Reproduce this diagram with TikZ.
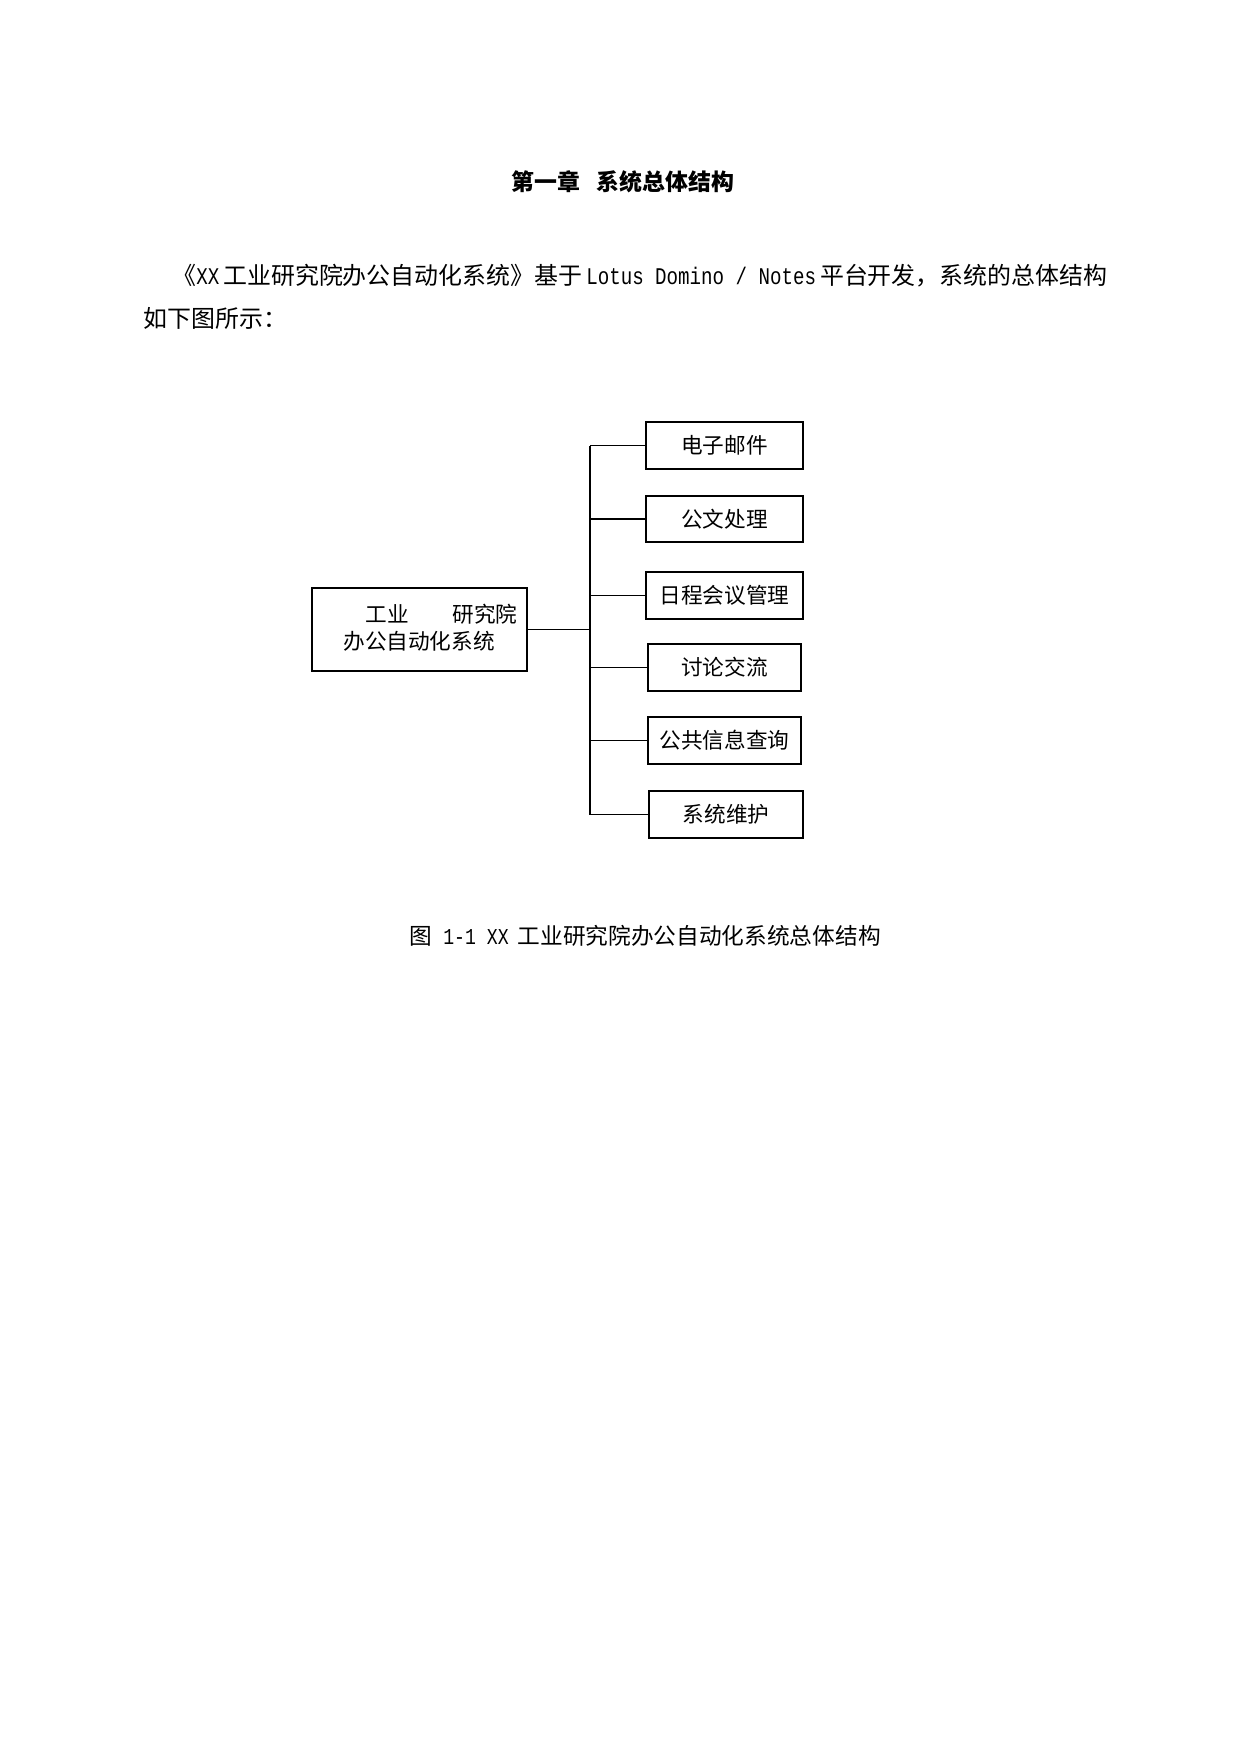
\documentclass[tikz,border=0pt]{standalone}
\usepackage{fontspec}
\newfontfamily\cjk{Noto Sans CJK SC}
\newfontfamily\lmono{Liberation Mono}[FakeStretch=0.8]
\begin{document}
\begin{tikzpicture}[x=0.4805pt,y=-0.4805pt,
  box/.style={draw=black,line width=0.9pt,minimum height=22.5pt,inner sep=0pt,font=\cjk\fontsize{10.4pt}{12pt}\selectfont},
  conn/.style={draw=black,line width=0.9pt},
  txt/.style={inner sep=0pt,font=\cjk\fontsize{10.4pt}{12pt}\selectfont},
  body/.style={inner sep=0pt,anchor=west,font=\cjk\fontsize{11.5pt}{14pt}\selectfont}]
\useasboundingbox (0,0) rectangle (1239,1754);
\fill[white] (0,0) rectangle (1239,1754);
% title
\node[inner sep=0pt,font=\cjk\bfseries\fontsize{11pt}{13pt}\selectfont] (title) at (623,182) {第一章\hspace{0.7em}系统总体结构};
% paragraph
\node[body] (p1) at (172,276) {《{\lmono XX}\,工业研究院办公自动化系统》基于\,{\lmono Lotus Domino / Notes}\,平台开发，系统的总体结构};
\node[body] (p2) at (143,318) {如下图所示：};
% diagram
\node[box,minimum width=103.3pt,minimum height=39.9pt] (main) at (419.5,629.5) {};
\node[txt,anchor=west] (m1) at (365,614) {工业\hspace{21pt}研究院};
\node[txt,anchor=west] (m2) at (343,641) {办公自动化系统};
\node[box,minimum width=75.4pt] (b1) at (724.5,445.5) {电子邮件};
\node[box,minimum width=75.4pt] (b2) at (724.5,519) {公文处理};
\node[box,minimum width=75.4pt] (b3) at (724.5,595.5) {日程会议管理};
\node[box,minimum width=73.5pt] (b4) at (724.5,667.5) {讨论交流};
\node[box,minimum width=73.5pt] (b5) at (724.5,740.5) {公共信息查询};
\node[box,minimum width=74pt] (b6) at (726,814.5) {系统维护};
\coordinate (j) at (590,629.5);
\draw[conn] (main.east) -- (j);
\draw[conn] (j |- b1.west) -- (j |- b6.west);
\foreach \b in {b1,b2,b3,b4,b5,b6}{\draw[conn] (j |- \b.west) -- (\b.west);}
% caption
\node[inner sep=0pt,font=\cjk\fontsize{10.9pt}{13pt}\selectfont] (cap) at (645,936) {图\hspace{0.5em}{\lmono 1-1 XX}\hspace{0.4em}工业研究院办公自动化系统总体结构};
\end{tikzpicture}
\end{document}
